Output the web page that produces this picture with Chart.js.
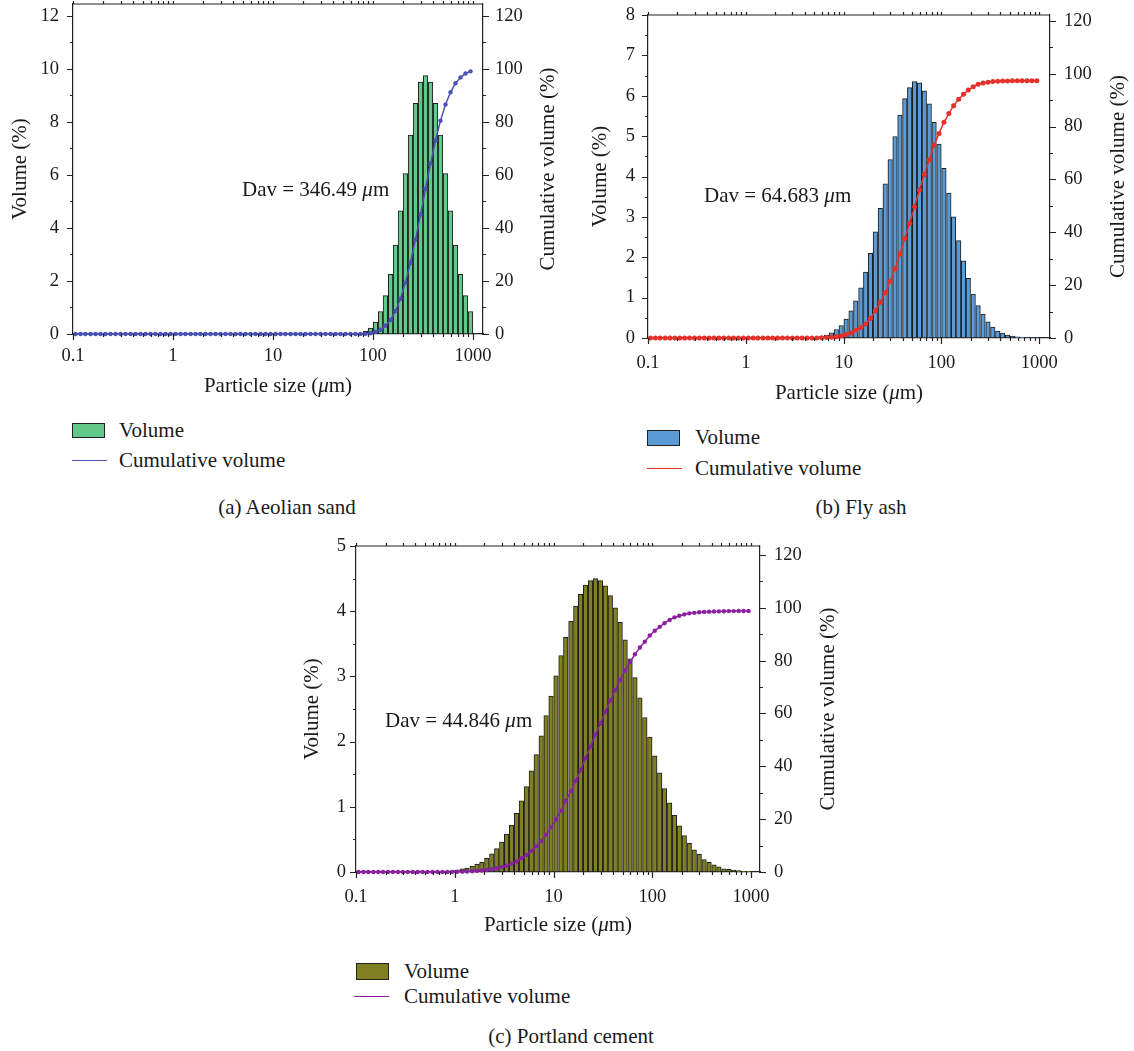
<!DOCTYPE html>
<html>
<head>
<meta charset="utf-8">
<title>Particle size distribution</title>
<script src="https://cdn.jsdelivr.net/npm/chart.js@4.4.1/dist/chart.umd.min.js"></script>
<style>
  body { margin: 0; background: #fff; }
  #page { position: relative; width: 1134px; height: 1051px; overflow: hidden;
          font-family: "Liberation Serif", "DejaVu Serif", serif; color: #1a1a1a; }
  canvas { position: absolute; }
  .t { position: absolute; font-size: 21px; line-height: 1; white-space: nowrap; transform: translateY(-50%); }
  .c { transform: translate(-50%, -50%); }
  .sw { position: absolute; box-sizing: border-box; border: 1.5px solid #222; }
  .ln { position: absolute; height: 0; border-top: 1.5px solid; }
</style>
</head>
<body>
<div id="page">
  <canvas id="ca" width="570" height="410" style="left:0;top:0"></canvas>
  <canvas id="cb" width="554" height="410" style="left:580px;top:0"></canvas>
  <canvas id="cc" width="560" height="420" style="left:290px;top:530px"></canvas>

  <div class="t" style="left:242px;top:189px">Dav = 346.49 <i>μ</i>m</div>
  <div class="t" style="left:704px;top:195px">Dav = 64.683 <i>μ</i>m</div>
  <div class="t" style="left:385px;top:720px">Dav = 44.846 <i>μ</i>m</div>

  <div class="sw" style="left:72px;top:423px;width:33px;height:15px;background:#62c98a"></div>
  <div class="t" style="left:119px;top:430px">Volume</div>
  <div class="ln" style="left:72px;top:460px;width:35px;border-color:#4a52b8"></div>
  <div class="t" style="left:119px;top:460px">Cumulative volume</div>
  <div class="t c" style="left:287px;top:507px">(a) Aeolian sand</div>

  <div class="sw" style="left:647px;top:430px;width:33px;height:16px;background:#5b9bd5"></div>
  <div class="t" style="left:695px;top:437px">Volume</div>
  <div class="ln" style="left:647px;top:468px;width:35px;border-color:#e8302a"></div>
  <div class="t" style="left:695px;top:468px">Cumulative volume</div>
  <div class="t c" style="left:861px;top:507px">(b) Fly ash</div>

  <div class="sw" style="left:356px;top:963px;width:33px;height:17px;background:#808022"></div>
  <div class="t" style="left:404px;top:971px">Volume</div>
  <div class="ln" style="left:354px;top:996px;width:35px;border-color:#8a22a0"></div>
  <div class="t" style="left:404px;top:996px">Cumulative volume</div>
  <div class="t c" style="left:571px;top:1036px">(c) Portland cement</div>
</div>
<script>
// particle size classes (µm), 20 per decade
const sizes = [
  0.106, 0.119, 0.133, 0.150, 0.168, 0.188, 0.211, 0.237, 0.266, 0.299, 0.335, 0.376, 0.422, 0.473, 0.531, 0.596, 0.668, 0.750, 0.841, 0.944,
  1.06, 1.19, 1.33, 1.50, 1.68, 1.88, 2.11, 2.37, 2.66, 2.99, 3.35, 3.76, 4.22, 4.73, 5.31, 5.96, 6.68, 7.50, 8.41, 9.44,
  10.6, 11.9, 13.3, 15.0, 16.8, 18.8, 21.1, 23.7, 26.6, 29.9, 33.5, 37.6, 42.2, 47.3, 53.1, 59.6, 66.8, 75.0, 84.1, 94.4,
  106, 119, 133, 150, 168, 188, 211, 237, 266, 299, 335, 376, 422, 473, 531, 596, 668, 750, 841, 944
];

// (a) aeolian sand
const volSand = [
  0, 0, 0, 0, 0, 0, 0, 0, 0, 0, 0, 0, 0, 0, 0, 0, 0, 0, 0, 0,
  0, 0, 0, 0, 0, 0, 0, 0, 0, 0, 0, 0, 0, 0, 0, 0, 0, 0, 0, 0,
  0, 0, 0, 0, 0, 0, 0, 0, 0, 0, 0, 0, 0, 0, 0, 0, 0, 0.03, 0.1, 0.22,
  0.45, 0.85, 1.45, 2.25, 3.35, 4.65, 6.05, 7.5, 8.7, 9.5, 9.75, 9.5, 8.7, 7.5, 6.05, 4.65, 3.35, 2.25, 1.45, 0.85
];
const cumSand = [
  0, 0, 0, 0, 0, 0, 0, 0, 0, 0, 0, 0, 0, 0, 0, 0, 0, 0, 0, 0,
  0, 0, 0, 0, 0, 0, 0, 0, 0, 0, 0, 0, 0, 0, 0, 0, 0, 0, 0, 0,
  0, 0, 0, 0, 0, 0, 0, 0, 0, 0, 0, 0, 0, 0, 0, 0, 0, 0.03, 0.1, 0.3,
  0.8, 1.6, 3.1, 5.3, 8.7, 13.3, 19.4, 26.9, 35.6, 45.1, 54.8, 64.3, 73.0, 80.5, 86.6, 91.2, 94.6, 96.8, 98.3, 99.1
];

// (b) fly ash
const volAsh = [
  0, 0, 0, 0, 0, 0, 0, 0, 0, 0, 0, 0, 0, 0, 0, 0, 0, 0, 0, 0,
  0, 0, 0, 0, 0, 0, 0, 0, 0, 0, 0, 0, 0, 0, 0.015, 0.04, 0.07, 0.13, 0.21, 0.31,
  0.47, 0.67, 0.92, 1.24, 1.63, 2.1, 2.63, 3.21, 3.82, 4.42, 4.99, 5.52, 5.93, 6.2, 6.35, 6.32, 6.12, 5.8, 5.34, 4.8,
  4.2, 3.59, 3.0, 2.41, 1.91, 1.48, 1.09, 0.8, 0.59, 0.4, 0.27, 0.17, 0.12, 0.07, 0.05, 0.03, 0.02, 0.01, 0.01, 0.005
];
const cumAsh = [
  0, 0, 0, 0, 0, 0, 0, 0, 0, 0, 0, 0, 0, 0, 0, 0, 0, 0, 0, 0,
  0, 0, 0, 0, 0, 0, 0, 0, 0, 0, 0, 0, 0, 0, 0.02, 0.05, 0.15, 0.3, 0.5, 0.8,
  1.3, 1.9, 2.9, 4.0, 5.3, 7.4, 10.3, 13.5, 17.1, 21.4, 26.2, 31.8, 37.6, 43.4, 49.7, 56.0, 61.9, 67.3, 72.9, 77.4,
  81.6, 84.9, 87.9, 90.3, 92.2, 93.8, 95.1, 96.0, 96.5, 96.8, 97.0, 97.1, 97.2, 97.2, 97.3, 97.3, 97.3, 97.3, 97.3, 97.3
];

// (c) portland cement
const volCement = [
  0, 0, 0, 0, 0, 0, 0, 0, 0, 0, 0, 0, 0, 0, 0, 0, 0, 0, 0, 0.02,
  0.03, 0.05, 0.06, 0.09, 0.12, 0.15, 0.21, 0.28, 0.36, 0.46, 0.58, 0.72, 0.9, 1.09, 1.31, 1.55, 1.8, 2.09, 2.4, 2.7,
  3.01, 3.32, 3.6, 3.85, 4.08, 4.26, 4.4, 4.47, 4.5, 4.47, 4.39, 4.24, 4.05, 3.83, 3.56, 3.27, 2.98, 2.67, 2.37, 2.07,
  1.78, 1.52, 1.28, 1.06, 0.87, 0.71, 0.56, 0.44, 0.34, 0.27, 0.19, 0.15, 0.11, 0.08, 0.05, 0.04, 0.03, 0.02, 0.01, 0.01
];
const cumCement = [
  0, 0, 0, 0, 0, 0, 0, 0, 0, 0, 0, 0, 0, 0, 0, 0, 0, 0, 0.03, 0.05,
  0.09, 0.14, 0.2, 0.3, 0.42, 0.57, 0.78, 1.05, 1.4, 1.85, 2.4, 3.2, 4.0, 5.2, 6.4, 8.0, 9.7, 11.7, 14.1, 16.9,
  19.9, 23.2, 26.9, 30.6, 34.5, 38.6, 43.1, 47.5, 52.0, 56.3, 60.7, 64.9, 68.9, 72.7, 76.3, 79.5, 82.4, 85.0, 87.2, 89.5,
  91.3, 92.8, 94.2, 95.4, 96.4, 97.0, 97.5, 97.9, 98.1, 98.3, 98.45, 98.55, 98.6, 98.65, 98.7, 98.75, 98.75, 98.8, 98.8, 98.8
];

const ink = '#1a1a1a';
const serif = '"Liberation Serif", serif';
const tickFont = { family: serif, size: 18.5 };
const titleFont = { family: serif, size: 21 };

function isDecade(v) {
    const l = Math.log10(v);
    return Math.abs(l - Math.round(l)) < 1e-9;
}
function isMult(v, step) {
    const q = v / step;
    return Math.abs(q - Math.round(q)) < 1e-6;
}

// frame: top border, tick marks on four sides, right title, x title with italic mu
const frame = {
    id: 'frame',
    afterDraw(chart, args, o) {
        const { ctx, chartArea: a, scales } = chart;
        ctx.save();
        ctx.strokeStyle = '#222';
        ctx.lineWidth = 1.2;
        ctx.beginPath();
        ctx.moveTo(a.left, a.top); ctx.lineTo(a.right, a.top);
        scales.x.ticks.forEach(t => {
            const e = Math.floor(Math.log10(t.value) + 1e-9);
            const m = t.value / Math.pow(10, e);
            if (Math.abs(m - Math.round(m)) > 1e-6) return;
            const px = Math.round(scales.x.getPixelForValue(t.value)) + 0.5;
            const len = Math.round(m) === 1 ? 6 : 3;
            ctx.moveTo(px, a.bottom); ctx.lineTo(px, a.bottom + len);
            ctx.moveTo(px, a.top); ctx.lineTo(px, a.top - 3);
        });
        [['y', o.yMinor, o.yMajor, -1], ['y1', 10, 20, 1]].forEach(([id, minor, major, dir]) => {
            const s = scales[id];
            const x0 = dir < 0 ? a.left : a.right;
            s.ticks.forEach(t => {
                if (!isMult(t.value, minor)) return;
                const py = Math.round(s.getPixelForValue(t.value)) + 0.5;
                const len = isMult(t.value, major) ? 6 : 3;
                ctx.moveTo(x0, py); ctx.lineTo(x0 + dir * len, py);
            });
        });
        ctx.stroke();

        ctx.fillStyle = ink;
        ctx.textBaseline = 'middle';
        // x title
        const f = '21px ' + serif, fi = 'italic 21px ' + serif;
        const p1 = 'Particle size (', p2 = 'μ', p3 = 'm)';
        ctx.font = f; const w1 = ctx.measureText(p1).width, w3 = ctx.measureText(p3).width;
        ctx.font = fi; const w2 = ctx.measureText(p2).width;
        let x = (a.left + a.right) / 2 - (w1 + w2 + w3) / 2;
        ctx.textAlign = 'left';
        ctx.font = f; ctx.fillText(p1, x, o.xtY); x += w1;
        ctx.font = fi; ctx.fillText(p2, x, o.xtY); x += w2;
        ctx.font = f; ctx.fillText(p3, x, o.xtY);
        // right title, reading upwards
        ctx.translate(o.rtX, (a.top + a.bottom) / 2);
        ctx.rotate(-Math.PI / 2);
        ctx.textAlign = 'center';
        ctx.fillText('Cumulative volume (%)', 0, 0);
        ctx.restore();
    }
};

function build(id, o) {
    new Chart(document.getElementById(id), {
        type: 'bar',
        data: {
            labels: sizes,
            datasets: [{
                type: 'line',
                label: 'Cumulative volume',
                data: o.cum,
                yAxisID: 'y1',
                borderColor: o.line,
                backgroundColor: o.line,
                borderWidth: 1.5,
                pointRadius: o.pr,
                pointBorderWidth: 0,
                pointBackgroundColor: o.line,
                tension: 0,
                clip: false,
                order: 0
            }, {
                label: 'Volume',
                data: o.vol,
                yAxisID: 'y',
                backgroundColor: o.fill,
                borderColor: '#1e1e1e',
                borderWidth: 1,
                borderSkipped: false,
                barPercentage: 1,
                categoryPercentage: 1,
                order: 1
            }]
        },
        options: {
            responsive: false,
            animation: false,
            layout: { padding: { top: o.top, left: 0, right: 0, bottom: 0 } },
            plugins: {
                legend: { display: false },
                tooltip: { enabled: false },
                frame: { rtX: o.rtX, xtY: o.xtY, yMinor: o.yMinor, yMajor: o.yMajor }
            },
            scales: {
                x: {
                    type: 'logarithmic',
                    min: 0.1,
                    max: o.xMax,
                    offset: false,
                    grid: { display: false, drawTicks: false },
                    border: { color: '#222', width: 1.2 },
                    ticks: {
                        autoSkip: false, maxRotation: 0, padding: o.xPad,
                        font: tickFont, color: ink,
                        callback: v => isDecade(v) ? String(v) : ''
                    },
                    afterFit: s => { s.height = o.xH; s.paddingLeft = 0; s.paddingRight = 0; }
                },
                y: {
                    type: 'linear',
                    position: 'left',
                    min: 0,
                    max: o.yMax,
                    grid: { display: false, drawTicks: false },
                    border: { color: '#222', width: 1.2 },
                    ticks: {
                        stepSize: o.yMinor, autoSkip: false, includeBounds: false, padding: o.yPad,
                        font: tickFont, color: ink,
                        callback: v => isMult(v, o.yMajor) ? String(Math.round(v)) : ''
                    },
                    title: {
                        display: true, text: 'Volume (%)', font: titleFont, color: ink,
                        padding: { top: o.ytPad, bottom: 0 }
                    },
                    afterFit: s => { s.width = o.yW; s.paddingTop = 0; s.paddingBottom = 0; }
                },
                y1: {
                    type: 'linear',
                    position: 'right',
                    min: 0,
                    max: o.y1Max,
                    grid: { display: false, drawTicks: false },
                    border: { color: '#222', width: 1.2 },
                    ticks: {
                        stepSize: 10, autoSkip: false, includeBounds: false, padding: o.y1Pad,
                        font: tickFont, color: ink,
                        callback: v => isMult(v, 20) ? String(Math.round(v)) : ''
                    },
                    afterFit: s => { s.width = o.y1W; s.paddingTop = 0; s.paddingBottom = 0; }
                }
            }
        },
        plugins: [frame]
    });
}

function drawAll() {
    build('ca', {
        vol: volSand, cum: cumSand, fill: '#62c98a', line: '#4a52b8', pr: 2.2,
        top: 4, yW: 73, y1W: 87, xH: 76, xMax: 1259,
        yMax: 12.45, yMinor: 1, yMajor: 2, y1Max: 124.5,
        xPad: 11, yPad: 14, y1Pad: 12, ytPad: 7.4, rtX: 548, xtY: 386
    });
    build('cb', {
        vol: volAsh, cum: cumAsh, fill: '#5b9bd5', line: '#e8302a', pr: 2.5,
        top: 15, yW: 68, y1W: 84, xH: 72, xMax: 1287,
        yMax: 8, yMinor: 0.5, yMajor: 1, y1Max: 122.2,
        xPad: 14, yPad: 13, y1Pad: 14, ytPad: 7.4, rtX: 538, xtY: 393
    });
    build('cc', {
        vol: volCement, cum: cumCement, fill: '#808022', line: '#8a22a0', pr: 2.2,
        top: 16, yW: 66, y1W: 90, xH: 78, xMax: 1233,
        yMax: 5, yMinor: 0.5, yMajor: 1, y1Max: 123.4,
        xPad: 14, yPad: 10, y1Pad: 14, ytPad: 9.4, rtX: 538, xtY: 395
    });
}

Promise.all([
    document.fonts.load('21px "Liberation Serif"'),
    document.fonts.load('italic 21px "Liberation Serif"')
]).then(drawAll, drawAll);
</script>
</body>
</html>
